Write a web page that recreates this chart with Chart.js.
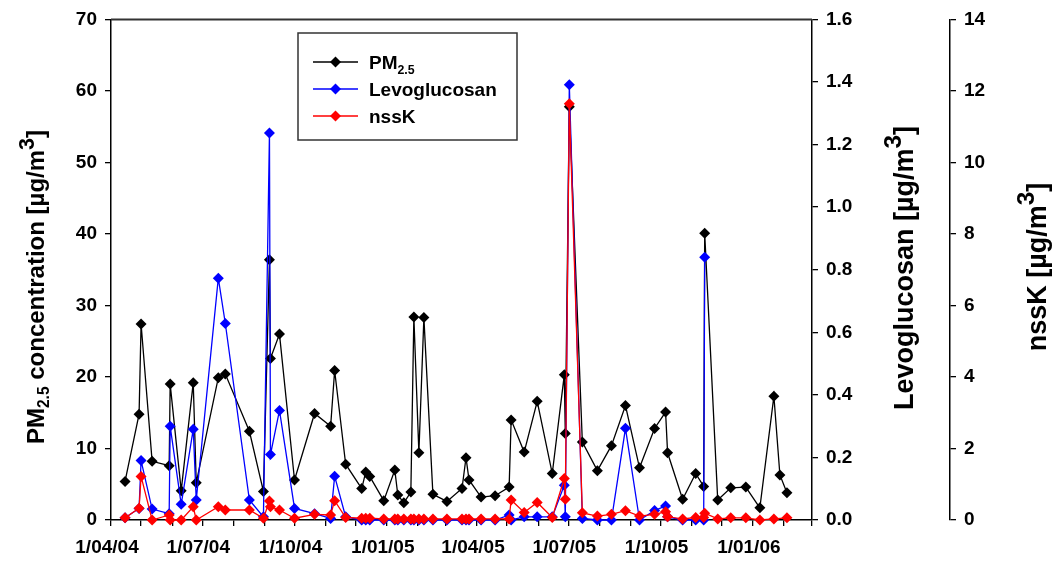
<!DOCTYPE html>
<html>
<head>
<meta charset="utf-8">
<title>PM2.5, levoglucosan and nssK</title>
<script src="https://cdn.jsdelivr.net/npm/chart.js@4.4.1/dist/chart.umd.min.js"></script>
<style>
    html, body { margin: 0; padding: 0; background: #fff; }
    #wrap { width: 1055px; height: 562px; }
</style>
</head>
<body>
<div id="wrap"><canvas id="chart" width="1055" height="562"></canvas></div>
<script>
// Sampling days and measured concentrations (ug/m3); null = not measured
const sampleDates = [
    '2004-04-15', '2004-04-29', '2004-05-01', '2004-05-12', '2004-05-29', '2004-05-30',
    '2004-06-10', '2004-06-22', '2004-06-25', '2004-07-17', '2004-07-24', '2004-08-17',
    '2004-08-31', '2004-09-06', '2004-09-07', '2004-09-16', '2004-10-01', '2004-10-21',
    '2004-11-06', '2004-11-10', '2004-11-21', '2004-12-07', '2004-12-11', '2004-12-15',
    '2004-12-29', '2005-01-09', '2005-01-12', '2005-01-18', '2005-01-25', '2005-01-28',
    '2005-02-02', '2005-02-07', '2005-02-16', '2005-03-02', '2005-03-17', '2005-03-21',
    '2005-03-24', '2005-04-05', '2005-04-19', '2005-05-03', '2005-05-05', '2005-05-18',
    '2005-05-31', '2005-06-15', '2005-06-27', '2005-06-28', '2005-07-02', '2005-07-15',
    '2005-07-30', '2005-08-13', '2005-08-27', '2005-09-10', '2005-09-25', '2005-10-06',
    '2005-10-08', '2005-10-23', '2005-11-05', '2005-11-13', '2005-11-14', '2005-11-27',
    '2005-12-10', '2005-12-25', '2006-01-08', '2006-01-22', '2006-01-28', '2006-02-04'
];

const pm25 = [
    5.4, 14.8, 27.4, 8.2, 7.6, 19.0,
    4.1, 19.2, 5.2, 19.9, 20.4, 12.4,
    4.0, 36.4, 22.6, 26.0, 5.6, 14.9,
    13.1, 20.9, 7.8, 4.4, 6.7, 6.1,
    2.7, 7.0, 3.5, 2.4, 3.9, 28.4,
    9.4, 28.3, 3.6, 2.6, 4.4, 8.7,
    5.6, 3.2, 3.4, 4.6, 14.0, 9.5,
    16.6, 6.5, 20.3, 12.1, 57.8, 10.9,
    6.9, 10.4, 16.0, 7.3, 12.8, 15.1,
    9.4, 2.9, 6.5, 4.7, 40.1, 2.8,
    4.5, 4.6, 1.7, 17.3, 6.3, 3.8
];

const levoglucosan = [
    0.007, 0.037, 0.19, 0.035, 0.02, 0.30,
    0.05, 0.29, 0.064, 0.773, 0.628, 0.064,
    0.01, 1.237, 0.209, 0.35, 0.037, 0.02,
    0.005, 0.14, 0.01, 0.0, 0.0, 0.0,
    0.0, 0.0, 0.0, 0.0, 0.0, 0.0,
    0.0, 0.0, 0.0, 0.0, 0.0, 0.0,
    0.0, 0.0, 0.0, 0.016, 0.0, 0.01,
    0.01, 0.01, 0.111, 0.01, 1.391, 0.005,
    0.0, 0.0, 0.293, 0.0, 0.03, 0.045,
    0.01, 0.0, 0.0, 0.0, 0.84, null,
    null, null, null, null, null, null
];

const nssK = [
    0.06, 0.33, 1.22, 0.0, 0.14, 0.0,
    0.0, 0.37, 0.0, 0.37, 0.28, 0.28,
    0.05, 0.53, 0.37, 0.28, 0.05, 0.16,
    0.14, 0.54, 0.07, 0.05, 0.05, 0.05,
    0.03, 0.03, 0.03, 0.03, 0.03, 0.03,
    0.03, 0.03, 0.03, 0.03, 0.03, 0.03,
    0.03, 0.03, 0.03, 0.03, 0.56, 0.21,
    0.49, 0.07, 1.16, 0.58, 11.64, 0.2,
    0.11, 0.16, 0.26, 0.11, 0.16, 0.23,
    0.09, 0.03, 0.07, 0.07, 0.19, 0.03,
    0.06, 0.06, 0.0, 0.03, null, 0.06
];

const axisStart = '2004-04-01';
const axisEnd = '2006-03-01';

const FONT = '"Liberation Sans", Arial, sans-serif';
const DAY = 86400000;

function dayOf(s) {
    return (Date.parse(s) - Date.parse(axisStart)) / DAY;
}

// month starts for the x tick marks, only Jan/Apr/Jul/Oct get a label
const monthTicks = [];
for (let t = Date.parse(axisStart); t <= Date.parse(axisEnd); ) {
    monthTicks.push((t - Date.parse(axisStart)) / DAY);
    const d = new Date(t);
    t = Date.UTC(d.getUTCFullYear(), d.getUTCMonth() + 1, 1);
}

function dateLabel(v) {
    const d = new Date(Date.parse(axisStart) + Math.round(v) * DAY);
    if (d.getUTCMonth() % 3 !== 0) return '';
    const mm = String(d.getUTCMonth() + 1).padStart(2, '0');
    const yy = String(d.getUTCFullYear() % 100).padStart(2, '0');
    return d.getUTCDate() + '/' + mm + '/' + yy;
}

function points(values) {
    return sampleDates.map((d, i) => ({ x: dayOf(d), y: values[i] }));
}

// text with sub/superscripts: parts = [text, scale, shift]
function richWidth(ctx, parts, size) {
    let w = 0;
    parts.forEach(p => {
        ctx.font = 'bold ' + (size * p[1]) + 'px ' + FONT;
        w += ctx.measureText(p[0]).width;
    });
    return w;
}

function drawRich(ctx, x, y, parts, size) {
    let cx = x;
    parts.forEach(p => {
        ctx.font = 'bold ' + (size * p[1]) + 'px ' + FONT;
        ctx.fillText(p[0], cx, y + p[2] * size);
        cx += ctx.measureText(p[0]).width;
    });
}

function drawVerticalTitle(ctx, cx, cy, parts, size) {
    ctx.save();
    ctx.translate(cx, cy);
    ctx.rotate(-Math.PI / 2);
    ctx.fillStyle = '#000';
    ctx.textBaseline = 'alphabetic';
    ctx.textAlign = 'left';
    const w = richWidth(ctx, parts, size);
    drawRich(ctx, -w / 2, 0.36 * size, parts, size);
    ctx.restore();
}

function diamond(ctx, x, y, r, color) {
    ctx.beginPath();
    ctx.moveTo(x, y - r);
    ctx.lineTo(x + r, y);
    ctx.lineTo(x, y + r);
    ctx.lineTo(x - r, y);
    ctx.closePath();
    ctx.fillStyle = color;
    ctx.fill();
}

const unitParts = [[' [\u00b5g/m', 1, 0], ['3', 0.9, -0.42], [']', 1, 0]];

// frame top line, axis titles and the boxed legend
const decorations = {
    id: 'decorations',
    afterDraw(chart) {
        const ctx = chart.ctx;
        const area = chart.chartArea;

        ctx.save();
        ctx.strokeStyle = '#333';
        ctx.lineWidth = 2;
        ctx.beginPath();
        ctx.moveTo(area.left, area.top);
        ctx.lineTo(area.right, area.top);
        ctx.stroke();
        ctx.restore();

        drawVerticalTitle(ctx, 35, 287,
            [['PM', 1, 0], ['2.5', 0.65, 0.22], [' concentration', 1, 0]].concat(unitParts), 24);
        drawVerticalTitle(ctx, 903, 268, [['Levoglucosan', 1, 0]].concat(unitParts), 27);
        drawVerticalTitle(ctx, 1036, 267, [['nssK', 1, 0]].concat(unitParts), 27);

        // legend
        ctx.save();
        ctx.strokeStyle = '#333';
        ctx.lineWidth = 1.5;
        ctx.strokeRect(298, 33, 219, 107);
        const rows = [
            { y: 62, color: '#000000', parts: [['PM', 1, 0], ['2.5', 0.65, 0.25]] },
            { y: 89, color: '#0000ff', parts: [['Levoglucosan', 1, 0]] },
            { y: 116, color: '#ff0000', parts: [['nssK', 1, 0]] }
        ];
        rows.forEach(r => {
            ctx.strokeStyle = r.color;
            ctx.lineWidth = 1.3;
            ctx.beginPath();
            ctx.moveTo(313, r.y);
            ctx.lineTo(358, r.y);
            ctx.stroke();
            diamond(ctx, 335.5, r.y, 5.5, r.color);
            ctx.fillStyle = '#000';
            ctx.textBaseline = 'alphabetic';
            ctx.textAlign = 'left';
            drawRich(ctx, 369, r.y + 7, r.parts, 19);
        });
        ctx.restore();
    }
};

Chart.defaults.font.family = FONT;
Chart.defaults.font.weight = 'bold';
Chart.defaults.font.size = 19;
Chart.defaults.color = '#000';

function series(label, values, color, axis, order) {
    return {
        label: label,
        data: points(values),
        yAxisID: axis,
        order: order,
        borderColor: color,
        backgroundColor: color,
        borderWidth: 1.3,
        pointStyle: 'rectRot',
        pointRadius: 5.5,
        pointBorderWidth: 0,
        pointHoverRadius: 5.5,
        tension: 0,
        spanGaps: true,
        clip: false
    };
}

const axisGrid = { display: true, drawOnChartArea: false, drawTicks: true, tickLength: 6, color: '#000', lineWidth: 1.3 };
const axisBorder = { display: true, color: '#000', width: 1.5 };

new Chart(document.getElementById('chart').getContext('2d'), {
    type: 'line',
    data: {
        datasets: [
            series('PM2.5', pm25, '#000000', 'y', 3),
            series('Levoglucosan', levoglucosan, '#0000ff', 'y1', 2),
            series('nssK', nssK, '#ff0000', 'y2', 1)
        ]
    },
    options: {
        responsive: false,
        animation: false,
        devicePixelRatio: 1,
        layout: { padding: { top: 17, left: 0, right: 0, bottom: 0 } },
        plugins: {
            legend: { display: false },
            tooltip: { enabled: false }
        },
        scales: {
            x: {
                type: 'linear',
                position: 'bottom',
                min: 0,
                max: dayOf(axisEnd),
                afterBuildTicks: s => { s.ticks = monthTicks.map(v => ({ value: v })); },
                afterFit: s => { s.height = 42; },
                ticks: { autoSkip: false, maxRotation: 0, padding: 10, labelOffset: -4, callback: v => dateLabel(v) },
                grid: axisGrid,
                border: axisBorder
            },
            y: {
                position: 'left',
                min: 0,
                max: 70,
                afterFit: s => { s.width = 111; },
                ticks: { stepSize: 10, padding: 8 },
                grid: axisGrid,
                border: axisBorder
            },
            y1: {
                position: 'right',
                weight: 1,
                min: 0,
                max: 1.6,
                afterFit: s => { s.width = 138; },
                ticks: { stepSize: 0.2, padding: 8, callback: v => v.toFixed(1) },
                grid: axisGrid,
                border: axisBorder
            },
            y2: {
                position: 'right',
                weight: 2,
                min: 0,
                max: 14,
                afterFit: s => { s.width = 105; },
                ticks: { stepSize: 2, padding: 8 },
                grid: axisGrid,
                border: axisBorder
            }
        }
    },
    plugins: [decorations]
});
</script>
</body>
</html>
